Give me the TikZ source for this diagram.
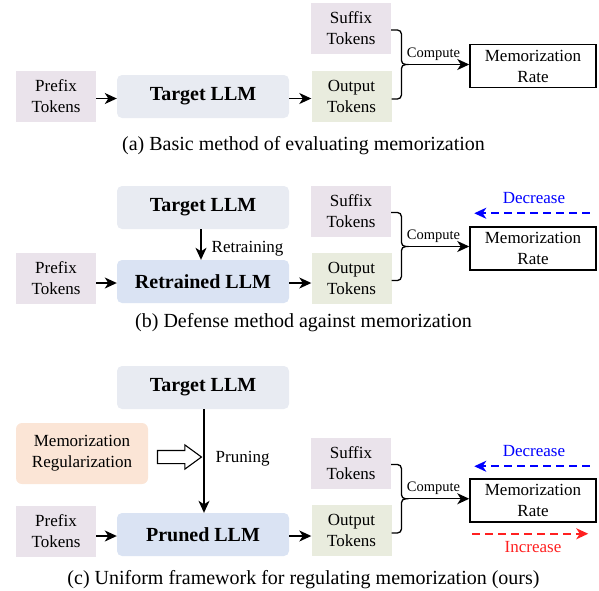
\documentclass[tikz,border=0pt]{standalone}
\usepackage{fontspec}
\setmainfont{Liberation Serif}
\usetikzlibrary{arrows.meta,shapes.arrows,calc}
\definecolor{tokpink}{HTML}{EAE3EB}
\definecolor{tokgreen}{HTML}{E9ECDE}
\definecolor{llmgray}{HTML}{E8EBF2}
\definecolor{llmblue}{HTML}{DAE3F3}
\definecolor{regpeach}{HTML}{FBE5D6}
\definecolor{decblue}{HTML}{0000FF}
\definecolor{incred}{HTML}{FF2020}
\begin{document}
\begin{tikzpicture}[x=1pt,y=-1pt,
  tok/.style={minimum width=80pt,minimum height=51pt,inner sep=0pt,align=center,font=\fontsize{17}{21}\selectfont},
  llm/.style={rounded corners=5pt,minimum width=172pt,minimum height=43pt,inner sep=0pt,font=\fontsize{20}{24}\selectfont\bfseries},
  regbox/.style={rounded corners=6pt,minimum width=132pt,minimum height=61pt,inner sep=0pt,align=center,font=\fontsize{17}{21}\selectfont},
  memrate/.style={draw,line width=1.5pt,fill=white,minimum width=126pt,minimum height=43pt,inner sep=0pt,align=center,font=\fontsize{17}{21}\selectfont},
  arr/.style={line width=1.3pt,-{Stealth[length=12pt,width=11pt,inset=3.5pt]}},
  darr/.style={line width=1.7pt,dash pattern=on 8pt off 5pt,-{Stealth[length=12pt,width=11pt,inset=3.5pt]}},
  bracepath/.style={line width=1.3pt,rounded corners=4pt},
  lbl/.style={inner sep=0pt,anchor=base,font=\fontsize{17}{21}\selectfont},
  cmp/.style={inner sep=0pt,anchor=base,font=\fontsize{14.5}{17}\selectfont},
  captiontext/.style={inner sep=0pt,anchor=base,font=\fontsize{20}{24}\selectfont},
  hollow/.style={single arrow,draw,fill=white,line width=1.1pt,minimum height=44pt,inner sep=6pt,single arrow head extend=5.5pt,single arrow tip angle=72}
]
\useasboundingbox (0,0) rectangle (599,590);

% ---------------- (a) ----------------
\node[tok,fill=tokpink] (prefA) at (56,96.5) {Prefix\\Tokens};
\node[llm,fill=llmgray] (tgtA) at (203,96.5) {Target LLM};
\node[tok,fill=tokpink] (sufA) at (351,28.5) {Suffix\\Tokens};
\node[tok,fill=tokgreen] (outA) at (351.5,96.5) {Output\\Tokens};
\node[memrate] (memA) at (533,66) {Memorization\\Rate};
\draw[arr] ($(prefA.east)+(0,2)$) -- ($(tgtA.west)+(0,2)$);
\draw[arr] ($(tgtA.east)+(0,2)$) -- ($(outA.west)+(0,2)$);
\coordinate (bA1) at ($(sufA.east)+(0,1.5)$);
\coordinate (bA2) at ($(outA.east)+(0,2.5)$);
\coordinate (tipA) at ($(bA1)!0.5!(bA2)+(13,0)$);
\draw[bracepath] (bA1) -| ($(tipA)+(-3,0)$) -- (tipA);
\draw[bracepath] (bA2) -| ($(tipA)+(-3,0)$) -- (tipA);
\draw[arr] (tipA) -- (tipA -| memA.west);
\node[cmp] (cmpA) at ($(tipA)+(29,-7)$) {Compute};
\node[captiontext] (capA) at (303.5,150) {(a) Basic method of evaluating memorization};

% ---------------- (b) ----------------
\node[llm,fill=llmgray] (tgtB) at (203,207.5) {Target LLM};
\node[tok,fill=tokpink] (prefB) at (56,278.5) {Prefix\\Tokens};
\node[llm,fill=llmblue] (retB) at (203,281.5) {Retrained LLM};
\node[tok,fill=tokpink] (sufB) at (351,211) {Suffix\\Tokens};
\node[tok,fill=tokgreen] (outB) at (351.5,278) {Output\\Tokens};
\node[memrate] (memB) at (533,248.5) {Memorization\\Rate};
\draw[arr] ($(prefB.east |- retB)+(0,1.5)$) -- ($(retB.west)+(0,1.5)$);
\draw[arr] ($(retB.east)+(0,1.5)$) -- ($(retB -| outB.west)+(0,1.5)$);
\draw[arr] ($(tgtB.south)+(-2,0)$) -- ($(retB.north)+(-2,0)$);
\node[lbl,anchor=base west] (rtB) at (211.5,252) {Retraining};
\coordinate (bB1) at ($(sufB.east)+(0,1.5)$);
\coordinate (bB2) at ($(outB.east)+(0,2.5)$);
\coordinate (tipB) at ($(bB1)!0.5!(bB2)+(13,0)$);
\draw[bracepath] (bB1) -| ($(tipB)+(-3,0)$) -- (tipB);
\draw[bracepath] (bB2) -| ($(tipB)+(-3,0)$) -- (tipB);
\draw[arr] (tipB) -- (tipB -| memB.west);
\node[cmp] (cmpB) at ($(tipB)+(29,-7)$) {Compute};
\coordinate (decBs) at ($(memB.north east)+(-7,-13)$);
\coordinate (decBe) at ($(memB.north west)+(5,-13)$);
\draw[darr,decblue] (decBs) -- (decBe);
\node[lbl,text=decblue] (decBt) at ($(memB.north)+(1,-23)$) {Decrease};
\node[captiontext] (capB) at (303.5,327) {(b) Defense method against memorization};

% ---------------- (c) ----------------
\node[llm,fill=llmgray] (tgtC) at (203,387.5) {Target LLM};
\node[regbox,fill=regpeach] (regC) at (82,453.5) {Memorization\\Regularization};
\node[hollow] (holC) at (175,457) {};
\node[tok,fill=tokpink] (prefC) at (56,531) {Prefix\\Tokens};
\node[llm,fill=llmblue] (prunC) at (203,534.5) {Pruned LLM};
\node[tok,fill=tokpink] (sufC) at (351,463) {Suffix\\Tokens};
\node[tok,fill=tokgreen] (outC) at (351.5,530.5) {Output\\Tokens};
\node[memrate] (memC) at (533,500.5) {Memorization\\Rate};
\draw[arr] ($(prefC.east |- prunC)+(0,1.5)$) -- ($(prunC.west)+(0,1.5)$);
\draw[arr] ($(prunC.east)+(0,1.5)$) -- ($(prunC -| outC.west)+(0,1.5)$);
\draw[arr] ($(tgtC.south)+(1,0)$) -- ($(prunC.north)+(1,0)$);
\node[lbl,anchor=base west] (prC) at (215.5,462) {Pruning};
\coordinate (bC1) at ($(sufC.east)+(0,1.5)$);
\coordinate (bC2) at ($(outC.east)+(0,2.5)$);
\coordinate (tipC) at ($(bC1)!0.5!(bC2)+(13,0)$);
\draw[bracepath] (bC1) -| ($(tipC)+(-3,0)$) -- (tipC);
\draw[bracepath] (bC2) -| ($(tipC)+(-3,0)$) -- (tipC);
\draw[arr] (tipC) -- (tipC -| memC.west);
\node[cmp] (cmpC) at ($(tipC)+(29,-7)$) {Compute};
\coordinate (decCs) at ($(memC.north east)+(-7,-12)$);
\coordinate (decCe) at ($(memC.north west)+(5,-12)$);
\draw[darr,decblue] (decCs) -- (decCe);
\node[lbl,text=decblue] (decCt) at ($(memC.north)+(1,-22)$) {Decrease};
\coordinate (incCs) at ($(memC.south west)+(3,11)$);
\coordinate (incCe) at ($(memC.south east)+(-8.5,11)$);
\draw[darr,incred] (incCs) -- (incCe);
\node[lbl,text=incred] (incCt) at ($(memC.south)+(0,30)$) {Increase};
\node[captiontext] (capC) at (303.5,584) {(c) Uniform framework for regulating memorization (ours)};
\end{tikzpicture}
\end{document}
